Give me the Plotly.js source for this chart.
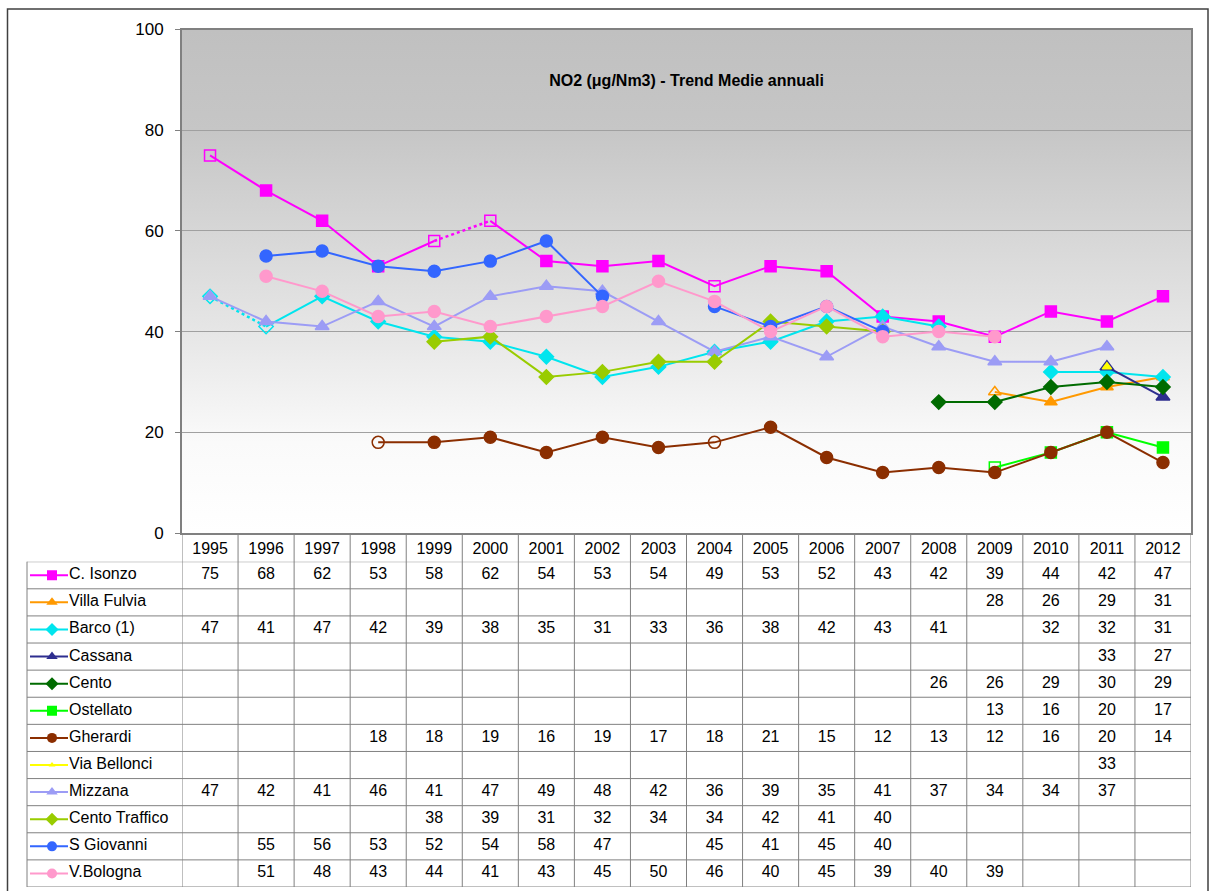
<!DOCTYPE html>
<html>
<head>
<meta charset="utf-8">
<script src="https://cdn.plot.ly/plotly-3.0.1.min.js"></script>
<style>html,body{margin:0;padding:0;background:#fff;}#chart{width:1212px;height:891px;}</style>
</head>
<body>
<div id="chart"></div>
<script>
// ---------------- DATA ----------------
const years = ["1995","1996","1997","1998","1999","2000","2001","2002","2003","2004","2005","2006","2007","2008","2009","2010","2011","2012"];

const stations = ["C. Isonzo","Villa Fulvia","Barco (1)","Cassana","Cento","Ostellato","Gherardi","Via Bellonci","Mizzana","Cento Traffico","S Giovanni","V.Bologna"];

const cIsonzo      = [75,68,62,53,58,62,54,53,54,49,53,52,43,42,39,44,42,47];
const villaFulvia  = [null,null,null,null,null,null,null,null,null,null,null,null,null,null,28,26,29,31];
const barco        = [47,41,47,42,39,38,35,31,33,36,38,42,43,41,null,32,32,31];
const cassana      = [null,null,null,null,null,null,null,null,null,null,null,null,null,null,null,null,33,27];
const cento        = [null,null,null,null,null,null,null,null,null,null,null,null,null,26,26,29,30,29];
const ostellato    = [null,null,null,null,null,null,null,null,null,null,null,null,null,null,13,16,20,17];
const gherardi     = [null,null,null,18,18,19,16,19,17,18,21,15,12,13,12,16,20,14];
const viaBellonci  = [null,null,null,null,null,null,null,null,null,null,null,null,null,null,null,null,33,null];
const mizzana      = [47,42,41,46,41,47,49,48,42,36,39,35,41,37,34,34,37,null];
const centoTraffico= [null,null,null,null,38,39,31,32,34,34,42,41,40,null,null,null,null,null];
const sGiovanni    = [null,55,56,53,52,54,58,47,null,45,41,45,40,null,null,null,null,null];
const vBologna     = [null,51,48,43,44,41,43,45,50,46,40,45,39,40,39,null,null,null];

const seriesValues = [cIsonzo,villaFulvia,barco,cassana,cento,ostellato,gherardi,viaBellonci,mizzana,centoTraffico,sGiovanni,vBologna];

// hollow (estimated) markers and dotted segments (start year of dotted segment)
const hollowYears = {"C. Isonzo":["1995","1999","2000","2004"],"Barco (1)":["1995","1996"],"Gherardi":["1998","2004"],"Villa Fulvia":["2009"],"Ostellato":["2009"]};
const dottedFrom  = {"C. Isonzo":["1999"],"Barco (1)":["1995"]};

// ---------------- STYLE ----------------
const colors  = ["#FF00FF","#FF9900","#00E5EE","#2E2E8F","#006B00","#00FF00","#8B2E00","#FFFF00","#9C9CF5","#99CC00","#3366FF","#FF99CC"];
const symbols = ["square","triangle-up","diamond","triangle-up","diamond","square","circle","triangle-up","triangle-up","diamond","circle","circle"];
const msizes  = [11,11,11,12,11,11,12,8,12,11,12,12];
const lwidth  = 2;

const W = 1212, H = 891;
const fx = p => p / W;
const fy = p => 1 - p / H;
const FONT = "Liberation Sans, Arial, sans-serif";

const traces = [];

stations.forEach((name, si) => {
  const vals = seriesValues[si];
  const col = colors[si];
  const dots = dottedFrom[name] || [];
  const hol = hollowYears[name] || [];
  // solid line
  const lx = [], ly = [];
  years.forEach((yr, i) => {
    lx.push(yr); ly.push(vals[i]);
    if (dots.includes(yr)) { lx.push(yr); ly.push(null); }
  });
  traces.push({type:"scatter", mode:"lines", x:lx, y:ly, xaxis:"x", yaxis:"y",
    line:{color:col, width:lwidth}, connectgaps:false, hoverinfo:"skip", showlegend:false});
  // dotted segments
  if (dots.length) {
    const dx = [], dy = [];
    dots.forEach(yr => {
      const i = years.indexOf(yr);
      dx.push(years[i], years[i+1], years[i+1]); dy.push(vals[i], vals[i+1], null);
    });
    traces.push({type:"scatter", mode:"lines", x:dx, y:dy, xaxis:"x", yaxis:"y",
      line:{color:col, width:lwidth+0.5, dash:"dot"}, connectgaps:false, hoverinfo:"skip", showlegend:false});
  }
  // markers
  const mx = [], my = [], ms = [];
  years.forEach((yr, i) => {
    if (vals[i] === null) return;
    mx.push(yr); my.push(vals[i]);
    ms.push(hol.includes(yr) ? symbols[si] + "-open" : symbols[si]);
  });
  traces.push({type:"scatter", mode:"markers", x:mx, y:my, xaxis:"x", yaxis:"y",
    marker:{color:col, symbol:ms, size:msizes[si], line:{color:col, width:1.5}},
    name:name, showlegend:false});
});

// ---- data table values ----
stations.forEach((name, si) => {
  const vals = seriesValues[si];
  const tx = [], ty = [], tt = [];
  years.forEach((yr, i) => {
    if (vals[i] === null) return;
    tx.push(yr); ty.push(si); tt.push(String(vals[i]));
  });
  traces.push({type:"scatter", mode:"text", x:tx, y:ty, text:tt, xaxis:"x2", yaxis:"y2",
    textfont:{family:FONT, size:16, color:"#000"}, hoverinfo:"skip", showlegend:false});
});

// ---- legend keys in the table ----
stations.forEach((name, si) => {
  const col = colors[si];
  traces.push({type:"scatter", mode:"lines", x:[3,41], y:[si,si], xaxis:"x3", yaxis:"y2",
    line:{color:col, width:2}, hoverinfo:"skip", showlegend:false});
  traces.push({type:"scatter", mode:"markers", x:[25], y:[si], xaxis:"x3", yaxis:"y2",
    marker:{color:col, symbol:symbols[si], size: si===7 ? 6 : 10}, hoverinfo:"skip", showlegend:false});
  traces.push({type:"scatter", mode:"text", x:[42], y:[si], text:[name], textposition:"middle right",
    xaxis:"x3", yaxis:"y2", textfont:{family:FONT, size:16, color:"#000"}, hoverinfo:"skip", showlegend:false});
});

// ---- shapes: table grid, outer frame ----
const shapes = [];
const gridCol = "#808080";
for (let k = 0; k <= stations.length; k++) {
  shapes.push({type:"line", xref:"paper", yref:"y2", x0:fx(27), x1:fx(1191), y0:k-0.5, y1:k-0.5,
    line:{color:gridCol, width:1}});
}
for (let k = 0; k <= years.length; k++) {
  shapes.push({type:"line", xref:"x", yref:"paper", x0:k-0.5, x1:k-0.5, y0:fy(533), y1:fy(887),
    line:{color:gridCol, width:1}});
}
shapes.push({type:"line", xref:"paper", yref:"paper", x0:fx(27), x1:fx(27), y0:fy(561.7), y1:fy(887),
  line:{color:gridCol, width:1}});
shapes.push({type:"rect", xref:"paper", yref:"paper", x0:fx(7.5), x1:fx(1208), y0:fy(9), y1:-0.05,
  line:{color:"#404040", width:1.5}, fillcolor:"rgba(0,0,0,0)"});

// gradient background for the plot area
const svg = '<svg xmlns="http://www.w3.org/2000/svg" width="100" height="100" preserveAspectRatio="none">' +
  '<defs><linearGradient id="g" x1="0" y1="0" x2="0" y2="1">' +
  '<stop offset="0" stop-color="#c0c0c0"/><stop offset="0.2" stop-color="#c6c6c6"/>' +
  '<stop offset="0.6" stop-color="#e6e6e6"/><stop offset="0.82" stop-color="#fafafa"/>' +
  '<stop offset="1" stop-color="#ffffff"/></linearGradient></defs>' +
  '<rect width="100" height="100" fill="url(#g)"/></svg>';

const layout = {
  width: W, height: H,
  margin:{l:0, r:0, t:0, b:0},
  paper_bgcolor:"#ffffff",
  plot_bgcolor:"rgba(0,0,0,0)",
  font:{family:FONT, color:"#000"},
  title:{text:"<b>NO2 (μg/Nm3) - Trend Medie annuali</b>", font:{family:FONT, size:16, color:"#000"},
    x:fx(686.5), xanchor:"center", xref:"paper", y:fy(80), yanchor:"middle", yref:"paper"},
  showlegend:false,
  xaxis:{domain:[fx(182), fx(1191)], anchor:"y", type:"category", categoryorder:"array", categoryarray:years,
    range:[-0.5, years.length-0.5], showline:true, linecolor:"#808080", linewidth:2, mirror:true,
    showgrid:false, ticks:"", tickfont:{family:FONT, size:16, color:"#000"}, ticklabelstandoff:0, zeroline:false},
  yaxis:{domain:[fy(533), fy(29.5)], anchor:"x", range:[0,100], dtick:20, tick0:0,
    ticks:"outside", ticklen:5, tickcolor:"#808080", tickwidth:1,
    showgrid:true, gridcolor:"#a0a0a0", gridwidth:1,
    showline:true, linecolor:"#808080", linewidth:2, mirror:true, zeroline:false,
    tickfont:{family:FONT, size:17, color:"#000"}, ticklabelstandoff:8},
  xaxis2:{domain:[fx(182), fx(1191)], anchor:"y2", type:"category", categoryorder:"array", categoryarray:years,
    range:[-0.5, years.length-0.5], visible:false},
  yaxis2:{domain:[fy(887), fy(561.7)], anchor:"x2", range:[stations.length-0.5, -0.5], autorange:false, visible:false},
  xaxis3:{domain:[fx(27), fx(182)], anchor:"y2", range:[0,155], visible:false},
  shapes: shapes,
  images:[{source:"data:image/svg+xml;charset=utf-8," + encodeURIComponent(svg),
    xref:"paper", yref:"paper", x:fx(182), y:fy(29.5), sizex:fx(1191)-fx(182), sizey:(533-29.5)/H,
    xanchor:"left", yanchor:"top", sizing:"stretch", layer:"below"}]
};

Plotly.newPlot("chart", traces, layout, {displayModeBar:false, staticPlot:true});
</script>
</body>
</html>
